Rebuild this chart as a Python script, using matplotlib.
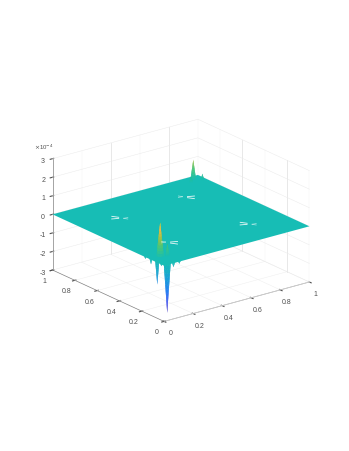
# Surface with narrow spikes, MATLAB style view
import numpy as np
import matplotlib
matplotlib.use('Agg')
import matplotlib.pyplot as plt
from matplotlib.colors import LinearSegmentedColormap

plt.rcParams['font.family'] = ['Liberation Sans', 'DejaVu Sans']

# Ticks
x_ticks = [0, 0.2, 0.4, 0.6, 0.8, 1]
y_ticks = [0, 0.2, 0.4, 0.6, 0.8, 1]
z_ticks = [-3e-4, -2e-4, -1e-4, 0, 1e-4, 2e-4, 3e-4]
xy_labels = ['0', '0.2', '0.4', '0.6', '0.8', '1']
z_labels = ['-3', '-2', '-1', '0', '1', '2', '3']

# Spikes
spike_x = [0.05, 0.06, 0.03, 0.10, 0.93, 0.97, 0.90, 0.02, 0.12, 0.16, 0.20, 0.08, 0.01, 0.01]
spike_y = [0.10, 0.05, 0.10, 0.10, 0.95, 0.92, 0.93, 0.05, 0.02, 0.03, 0.02, 0.02, 0.13, 0.18]
spike_z = [1.95e-4, -2.8e-4, -1.35e-4, 0.7e-4, 1.1e-4, 0.35e-4, 0.3e-4,
           -0.2e-4, -0.2e-4, -0.1e-4, -0.05e-4, -0.3e-4, -0.3e-4, -0.15e-4]
spike_w = [0.022, 0.02, 0.012, 0.012, 0.016, 0.01, 0.01, 0.01, 0.01, 0.01, 0.01, 0.01, 0.008, 0.008]

# White flecks on the sheet: centres, which way each cluster points, and segment ends
fleck_x = [0.25, 0.75, 0.75, 0.25]
fleck_y = [0.75, 0.75, 0.25, 0.25]
fleck_sign = [1, -1, 1, -1]
fleck_x0 = [-0.012, -0.037, 0.021, 0.021]
fleck_y0 = [0.029, -0.003, -0.035, -0.035]
fleck_x1 = [0.009, -0.001, 0.046, 0.032]
fleck_y1 = [-0.006, -0.019, -0.039, -0.057]
fleck_alpha = [0.9, 0.9, 0.5, 0.5]

cmap_pos = [0.0, 0.14, 0.28, 0.42, 0.592, 0.70, 0.80, 0.90, 1.0]
cmap_col = [(0.24, 0.15, 0.66), (0.28, 0.33, 0.94), (0.15, 0.50, 0.95), (0.10, 0.62, 0.85),
            (0.09, 0.74, 0.71), (0.25, 0.78, 0.50), (0.60, 0.76, 0.28), (0.98, 0.73, 0.24),
            (0.98, 0.90, 0.10)]
parula = LinearSegmentedColormap.from_list('parula', list(zip(cmap_pos, cmap_col)))
vmin, vmax = -2.9e-4, 2.0e-4

fig = plt.figure(figsize=(3.49, 4.51), dpi=100)
ax = fig.add_axes([0.005, 0.001, 1.0, 1.0], projection='3d', computed_zorder=False)
ax.set_proj_type('ortho')
ax.view_init(elev=20.7, azim=-127.5)
ax.set_box_aspect((1, 1, 0.65), zoom=0.793)
ax.set_xlim(0, 1)
ax.set_ylim(0, 1)
ax.set_zlim(-3e-4, 3e-4)
ax.grid(False)

# Grid on the two back walls and the floor
grid_soft = '#f3f3f3'
grid_strong = '#e4e4e4'
for t in x_ticks[1:]:
    ax.plot([t, t], [1, 1], [-3e-4, 3e-4], lw=0.6 if t in (0.4, 0.8) else 0.3,
            color=grid_strong if t in (0.4, 0.8) else grid_soft, zorder=0)
    ax.plot([t, t], [0, 1], [-3e-4, -3e-4], lw=0.35, color='#eeeeee', zorder=0)
for t in y_ticks[:-1]:
    ax.plot([1, 1], [t, t], [-3e-4, 3e-4], lw=0.6 if t in (0.2, 0.6) else 0.3,
            color=grid_strong if t in (0.2, 0.6) else grid_soft, zorder=0)
    ax.plot([0, 1], [t, t], [-3e-4, -3e-4], lw=0.35, color='#eeeeee', zorder=0)
for t in z_ticks:
    ax.plot([0, 1, 1], [1, 1, 0], [t, t, t], lw=0.35, color='#eaeaea', zorder=0)

# Flat sheet
sheet_x, sheet_y = np.meshgrid([0, 1], [0, 1])
ax.plot_surface(sheet_x, sheet_y, np.zeros((2, 2)), color=parula((0 - vmin) / (vmax - vmin)),
                shade=False, linewidth=0, zorder=2)

# Spikes go above or below the sheet
levels = np.linspace(0, 1, 14)
angle = np.linspace(0, 2 * np.pi, 9)
for sx, sy, sz, sw in zip(spike_x, spike_y, spike_z, spike_w):
    L, A = np.meshgrid(levels, angle)
    px = sx + sw * (1 - L) * np.cos(A)
    py = sy + sw * (1 - L) * np.sin(A)
    pz = sz * L
    colors = parula((pz - vmin) / (vmax - vmin))
    ax.plot_surface(px, py, pz, facecolors=colors, shade=False, linewidth=0,
                    rstride=1, cstride=1, zorder=3 if sz > 0 else 1)

# Flecks
for fx, fy, s in zip(fleck_x, fleck_y, fleck_sign):
    for x0, y0, x1, y1, a in zip(fleck_x0, fleck_y0, fleck_x1, fleck_y1, fleck_alpha):
        ax.plot([fx + s * x0, fx + s * x1], [fy + s * y0, fy + s * y1], [0, 0],
                color='white', lw=0.6, alpha=a, zorder=4)

ax.set_xticks(x_ticks)
ax.set_yticks(y_ticks)
ax.set_zticks(z_ticks)
ax.set_xticklabels(xy_labels)
ax.set_yticklabels(xy_labels)
ax.set_zticklabels(z_labels)
ax.tick_params(labelsize=5, colors='#505050', length=1.2, width=0.25)
ax.tick_params(axis='x', pad=-0.7)
ax.tick_params(axis='y', pad=-1)
ax.tick_params(axis='z', pad=-3.2)

for axis in [ax.xaxis, ax.yaxis, ax.zaxis]:
    axis.set_pane_color((1, 1, 1, 0))
    axis.pane.set_edgecolor((1, 1, 1, 0))
    axis.line.set_color('#808080')
    axis.line.set_linewidth(0.5)
# z axis on the left edge
ax.zaxis.set_ticks_position('upper')

fig.text(0.098, 0.667, r'$\times$10$^{-4}$', fontsize=4.3, color='#505050')

fig.savefig('out.png', dpi=100)
